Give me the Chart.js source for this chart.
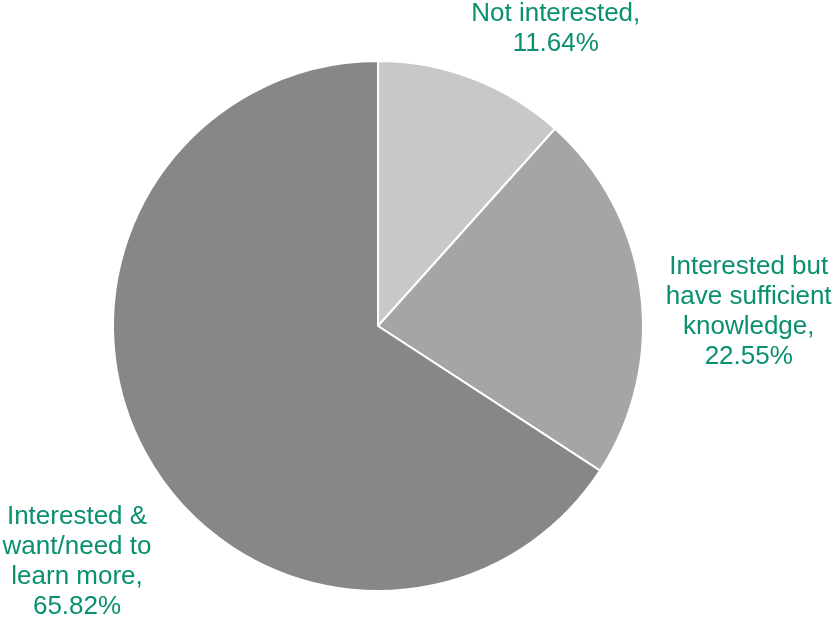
<!DOCTYPE html>
<html>
<head>
<meta charset="utf-8">
<script src="https://cdn.jsdelivr.net/npm/chart.js@4"></script>
<style>
  html, body { margin: 0; padding: 0; background: #fff; }
  #wrap { width: 834px; height: 621px; position: relative; }
</style>
</head>
<body>
<div id="wrap"><canvas id="grafica"></canvas></div>
<script>
// datos
const categorias = [
  ['Not interested,'],
  ['Interested but', 'have sufficient', 'knowledge,'],
  ['Interested &', 'want/need to', 'learn more,']
];
const valores = [11.64, 22.55, 65.82];
const colores = ['#c8c8c8', '#a5a5a5', '#878787'];

// desplazamiento de cada etiqueta desde el borde del sector
const desplaz = [[83, -50], [108, 20], [-68, 110]];

const etiquetas = {
  id: 'etiquetas',
  afterDatasetsDraw(chart) {
    const ctx = chart.ctx;
    const meta = chart.getDatasetMeta(0);
    ctx.save();
    ctx.font = '26px "Liberation Sans", Arial, sans-serif';
    ctx.fillStyle = '#0a9070';
    ctx.textAlign = 'center';
    ctx.textBaseline = 'middle';
    const lh = 30;
    meta.data.forEach((arc, i) => {
      const p = arc.getProps(['x', 'y', 'startAngle', 'endAngle', 'outerRadius'], true);
      const mid = (p.startAngle + p.endAngle) / 2;
      const ex = p.x + Math.cos(mid) * p.outerRadius;
      const ey = p.y + Math.sin(mid) * p.outerRadius;
      const cx = ex + desplaz[i][0];
      const cy = ey + desplaz[i][1];
      const lineas = categorias[i].concat([valores[i].toFixed(2) + '%']);
      lineas.forEach((t, j) => {
        ctx.fillText(t, cx, cy + (j - (lineas.length - 1) / 2) * lh);
      });
    });
    ctx.restore();
  }
};

const ctx = document.getElementById('grafica').getContext('2d');
const myChart = new Chart(ctx, {
  type: 'pie',
  data: {
    labels: categorias.map(c => c.join(' ')),
    datasets: [{
      data: valores,
      backgroundColor: colores,
      borderColor: '#ffffff',
      borderWidth: 2
    }]
  },
  options: {
    responsive: true,
    maintainAspectRatio: false,
    animation: false,
    layout: { padding: { top: 60, bottom: 29, left: 112, right: 190 } },
    plugins: {
      legend: { display: false },
      tooltip: { enabled: false }
    }
  },
  plugins: [etiquetas]
});
</script>
</body>
</html>
